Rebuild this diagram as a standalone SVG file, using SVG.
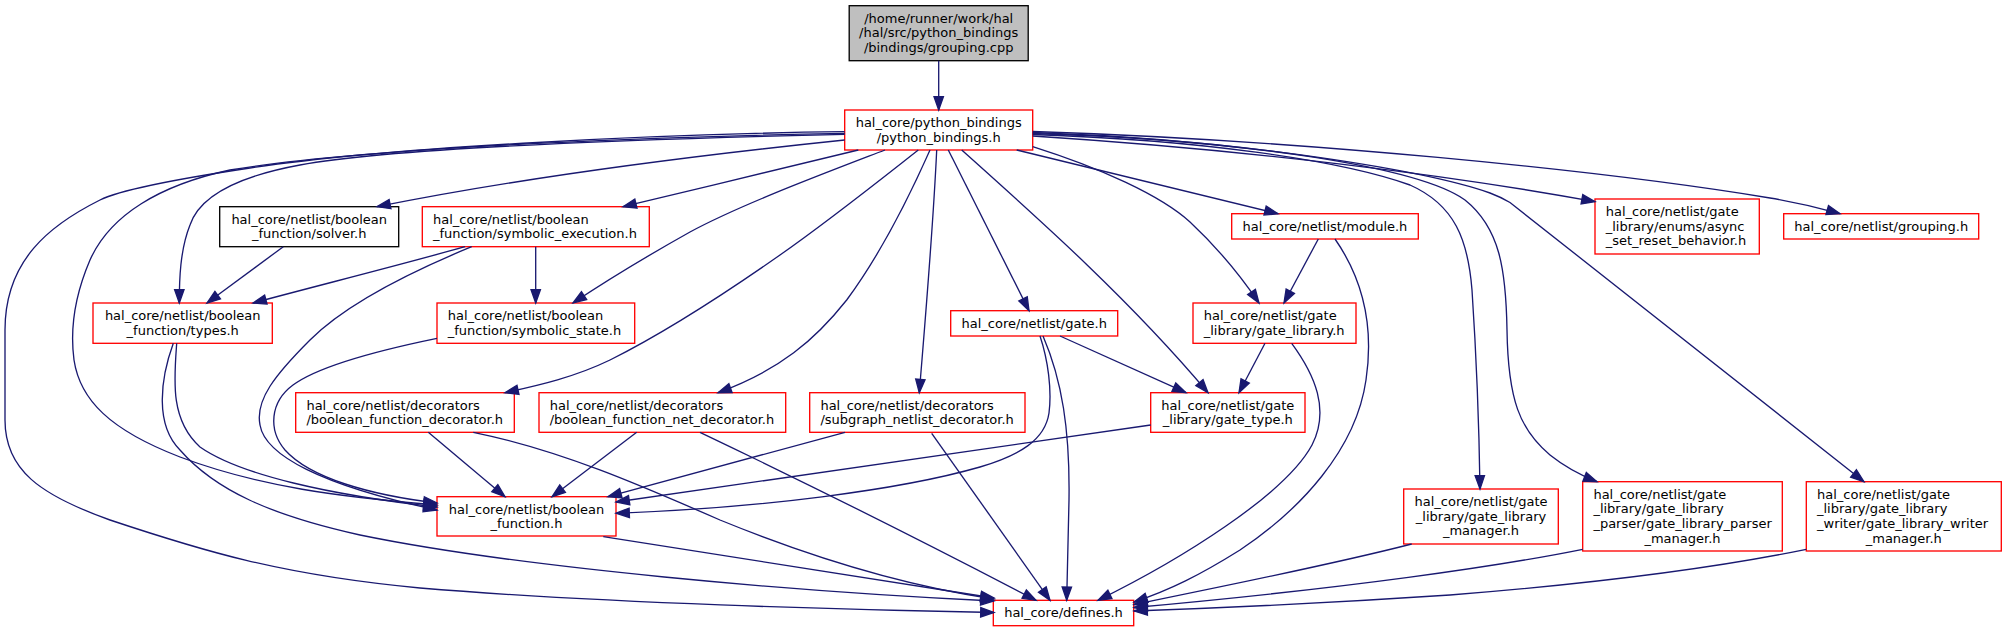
<svg xmlns="http://www.w3.org/2000/svg" width="2007" height="632" viewBox="0 0 2007 632">
<style>
.n rect{fill:#ffffff;stroke:#ff0000;stroke-width:1.33}
.k rect{fill:#ffffff;stroke:#000000;stroke-width:1.33}
.r rect{fill:#bfbfbf;stroke:#000000;stroke-width:1.33}
text{font-family:"DejaVu Sans","Liberation Sans",sans-serif;font-size:13px;fill:#000000}
.c{text-anchor:middle}
.e path{fill:none;stroke:#191970;stroke-width:1.33;marker-end:url(#ah)}
</style>
<defs>
<marker id="ah" markerUnits="userSpaceOnUse" viewBox="0 0 16 12" markerWidth="16" markerHeight="12" refX="14.3" refY="6" orient="auto" overflow="visible">
<path d="M1,1.3 L14.3,6 L1,10.7 Z" fill="#191970" stroke="#191970" stroke-width="1.33"/>
</marker>
</defs>
<rect width="2007" height="632" fill="#ffffff"/>

<g id="node-grouping-cpp" class="r"><rect x="849.2" y="5.7" width="179" height="55"/>
<text class="c" x="938.7" y="22.7">/home/runner/work/hal</text>
<text class="c" x="938.7" y="37.3">/hal/src/python_bindings</text>
<text class="c" x="938.7" y="52">/bindings/grouping.cpp</text></g>

<g id="node-python-bindings" class="n"><rect x="844.7" y="110" width="188" height="40"/>
<text class="c" x="938.7" y="127">hal_core/python_bindings</text>
<text class="c" x="938.7" y="141.7">/python_bindings.h</text></g>

<g id="node-solver" class="k"><rect x="219.7" y="206.7" width="179" height="40"/>
<text class="c" x="309.2" y="223.7">hal_core/netlist/boolean</text>
<text class="c" x="309.2" y="238.3">_function/solver.h</text></g>

<g id="node-symbolic-execution" class="n"><rect x="422.3" y="206.7" width="227" height="40"/>
<text x="433" y="223.7">hal_core/netlist/boolean</text>
<text x="433" y="238.3">_function/symbolic_execution.h</text></g>

<g id="node-types" class="n"><rect x="93" y="303" width="179.3" height="40.3"/>
<text class="c" x="182.7" y="320">hal_core/netlist/boolean</text>
<text class="c" x="182.7" y="334.7">_function/types.h</text></g>

<g id="node-symbolic-state" class="n"><rect x="437" y="303" width="197.7" height="40.3"/>
<text x="447.7" y="320">hal_core/netlist/boolean</text>
<text x="447.7" y="334.7">_function/symbolic_state.h</text></g>

<g id="node-bf-decorator" class="n"><rect x="295.7" y="392.7" width="218.6" height="39.6"/>
<text x="306.4" y="409.7">hal_core/netlist/decorators</text>
<text x="306.4" y="424.3">/boolean_function_decorator.h</text></g>

<g id="node-bf-net-decorator" class="n"><rect x="539" y="392.7" width="246.7" height="39.6"/>
<text x="549.7" y="409.7">hal_core/netlist/decorators</text>
<text x="549.7" y="424.3">/boolean_function_net_decorator.h</text></g>

<g id="node-subgraph-decorator" class="n"><rect x="809.7" y="392.7" width="215.3" height="39.6"/>
<text x="820.4" y="409.7">hal_core/netlist/decorators</text>
<text x="820.4" y="424.3">/subgraph_netlist_decorator.h</text></g>

<g id="node-boolean-function" class="n"><rect x="437" y="496.7" width="179" height="39.3"/>
<text class="c" x="526.5" y="513.7">hal_core/netlist/boolean</text>
<text class="c" x="526.5" y="528.3">_function.h</text></g>

<g id="node-gate" class="n"><rect x="950.7" y="310.7" width="167" height="25.3"/>
<text class="c" x="1034.2" y="327.7">hal_core/netlist/gate.h</text></g>

<g id="node-gate-type" class="n"><rect x="1150.7" y="392.7" width="154.3" height="39.6"/>
<text class="c" x="1227.8" y="409.7">hal_core/netlist/gate</text>
<text class="c" x="1227.8" y="424.3">_library/gate_type.h</text></g>

<g id="node-gate-library" class="n"><rect x="1193" y="303" width="163" height="40.3"/>
<text x="1203.7" y="320">hal_core/netlist/gate</text>
<text x="1203.7" y="334.7">_library/gate_library.h</text></g>

<g id="node-module" class="n"><rect x="1231.7" y="213.7" width="186.6" height="25.3"/>
<text class="c" x="1325" y="230.7">hal_core/netlist/module.h</text></g>

<g id="node-async" class="n"><rect x="1595" y="199" width="164.3" height="55"/>
<text x="1605.7" y="216">hal_core/netlist/gate</text>
<text x="1605.7" y="230.7">_library/enums/async</text>
<text x="1605.7" y="245.3">_set_reset_behavior.h</text></g>

<g id="node-grouping-h" class="n"><rect x="1783.7" y="213.7" width="195" height="25.3"/>
<text class="c" x="1881.2" y="230.7">hal_core/netlist/grouping.h</text></g>

<g id="node-gl-manager" class="n"><rect x="1403.7" y="489" width="154.6" height="55"/>
<text class="c" x="1481" y="506">hal_core/netlist/gate</text>
<text class="c" x="1481" y="520.7">_library/gate_library</text>
<text class="c" x="1481" y="535.3">_manager.h</text></g>

<g id="node-parser-manager" class="n"><rect x="1582.7" y="481.7" width="199.6" height="69.3"/>
<text x="1593.4" y="498.7">hal_core/netlist/gate</text>
<text x="1593.4" y="513.3">_library/gate_library</text>
<text x="1593.4" y="528">_parser/gate_library_parser</text>
<text class="c" x="1682.5" y="542.7">_manager.h</text></g>

<g id="node-writer-manager" class="n"><rect x="1806.3" y="481.7" width="195" height="69.3"/>
<text x="1817" y="498.7">hal_core/netlist/gate</text>
<text x="1817" y="513.3">_library/gate_library</text>
<text x="1817" y="528">_writer/gate_library_writer</text>
<text class="c" x="1903.8" y="542.7">_manager.h</text></g>

<g id="node-defines" class="n"><rect x="993.3" y="600.3" width="140.4" height="25.4"/>
<text class="c" x="1063.5" y="617.3">hal_core/defines.h</text></g>

<g id="edges" class="e">
<path d="M938.7,60.7 L938.7,110"/>
<path d="M844.7,131.7 C650,134 380,148 250,168 C170,180 120,190 100,200 C50,225 5,260 5,330 L5,420 C5,470 40,495 110,520 C200,550 280,575 420,588 C600,603 850,610 994,612.5"/>
<path d="M844.7,133.3 C600,138 350,150 230,170 C160,185 110,215 90,260 C75,295 70,330 74,360 C80,400 110,430 180,457 C260,487 340,497 437,505"/>
<path d="M844.7,134.3 C600,140 380,150 300,165 C240,176 200,195 190,225 C180,250 179.3,280 179.3,303"/>
<path d="M844.7,140 C700,155 520,178 377,206.7"/>
<path d="M858.3,150 C790,167 700,188 623,206.7"/>
<path d="M885,150 C820,175 740,205 690,232 C640,260 600,285 573,303"/>
<path d="M918.3,150 C880,180 830,220 780,255 C720,297 660,335 610,360 C575,377 540,385 505,392.7"/>
<path d="M930,150 C910,195 880,255 846.7,300 C815,340 780,370 718,392.7"/>
<path d="M936.7,150 C933,230 926,310 919.3,392.7"/>
<path d="M948.3,150 L1029,310.7"/>
<path d="M961.7,150 C1040,220 1130,300 1208,392.7"/>
<path d="M1032.7,146.7 C1100,168 1160,195 1190,222 C1220,250 1240,275 1259,303"/>
<path d="M1016.7,150 L1278,213.7"/>
<path d="M1032.7,134.5 C1200,140 1340,160 1410,185 C1455,205 1468,240 1472,290 C1476,350 1479,420 1480,489"/>
<path d="M1032.7,133.5 C1250,140 1420,168 1465,200 C1500,228 1506,270 1507,330 C1508,400 1520,430 1550,455 C1565,467 1580,475 1597,481.7"/>
<path d="M1032.7,132.5 C1250,140 1430,172 1490,193 C1498,196 1504,199 1510,202.5 L1864,481.7"/>
<path d="M1032.7,136 C1250,150 1450,175 1595,201.7"/>
<path d="M1032.7,131.5 C1300,140 1600,170 1770,198 C1800,203 1820,208 1840,213.7"/>
<path d="M283.3,246.7 L207,303"/>
<path d="M465,246.7 C400,265 320,285 253,303"/>
<path d="M535.7,246.7 L535.7,303"/>
<path d="M471.7,246.7 C420,268 350,300 310,340 C275,375 255,400 260,425 C265,455 320,485 437,510"/>
<path d="M437,338.3 C380,350 320,365 293,385 C270,402 268,430 285,450 C310,478 370,495 437,503"/>
<path d="M176.7,343.3 C174,380 170,420 200,447 C240,475 330,495 437,507"/>
<path d="M173.3,343.3 C160,380 155,425 180,450 C215,490 270,515 360,535 C520,568 800,592 994,601"/>
<path d="M428.3,432.3 L505,496.7"/>
<path d="M473.3,432.3 C560,450 640,485 720,520 C830,565 920,588 994,599"/>
<path d="M636.7,432.3 L552,496.7"/>
<path d="M700,432.3 C800,480 930,545 1036,600.3"/>
<path d="M845,432.3 L608,496.7"/>
<path d="M931.7,433.3 L1050,600.3"/>
<path d="M1060,336 L1186,392.7"/>
<path d="M1040,336 C1048,360 1052,390 1049,413 C1045,440 1020,455 980,467 C900,490 760,508 616,513.3"/>
<path d="M1043,336 C1062,380 1070,430 1069,500 C1068,550 1067,575 1066.7,600.3"/>
<path d="M1150.7,425 L616,502"/>
<path d="M1265,343.3 L1239,392.7"/>
<path d="M1291.7,343.3 C1315,375 1330,410 1312,445 C1285,495 1180,560 1098,600.3"/>
<path d="M1318.3,239 L1284,303"/>
<path d="M1335,239 C1360,275 1375,320 1366,380 C1356,450 1300,510 1240,550 C1200,575 1170,590 1134,602"/>
<path d="M1411.7,544 C1330,565 1230,585 1134,604.5"/>
<path d="M1582.7,549.3 C1500,566 1350,588 1134,607.5"/>
<path d="M1806.3,549.3 C1720,567 1600,583 1450,595 C1330,603 1220,608 1134,611"/>
<path d="M603.3,536.7 L994,598"/>
</g>
</svg>
